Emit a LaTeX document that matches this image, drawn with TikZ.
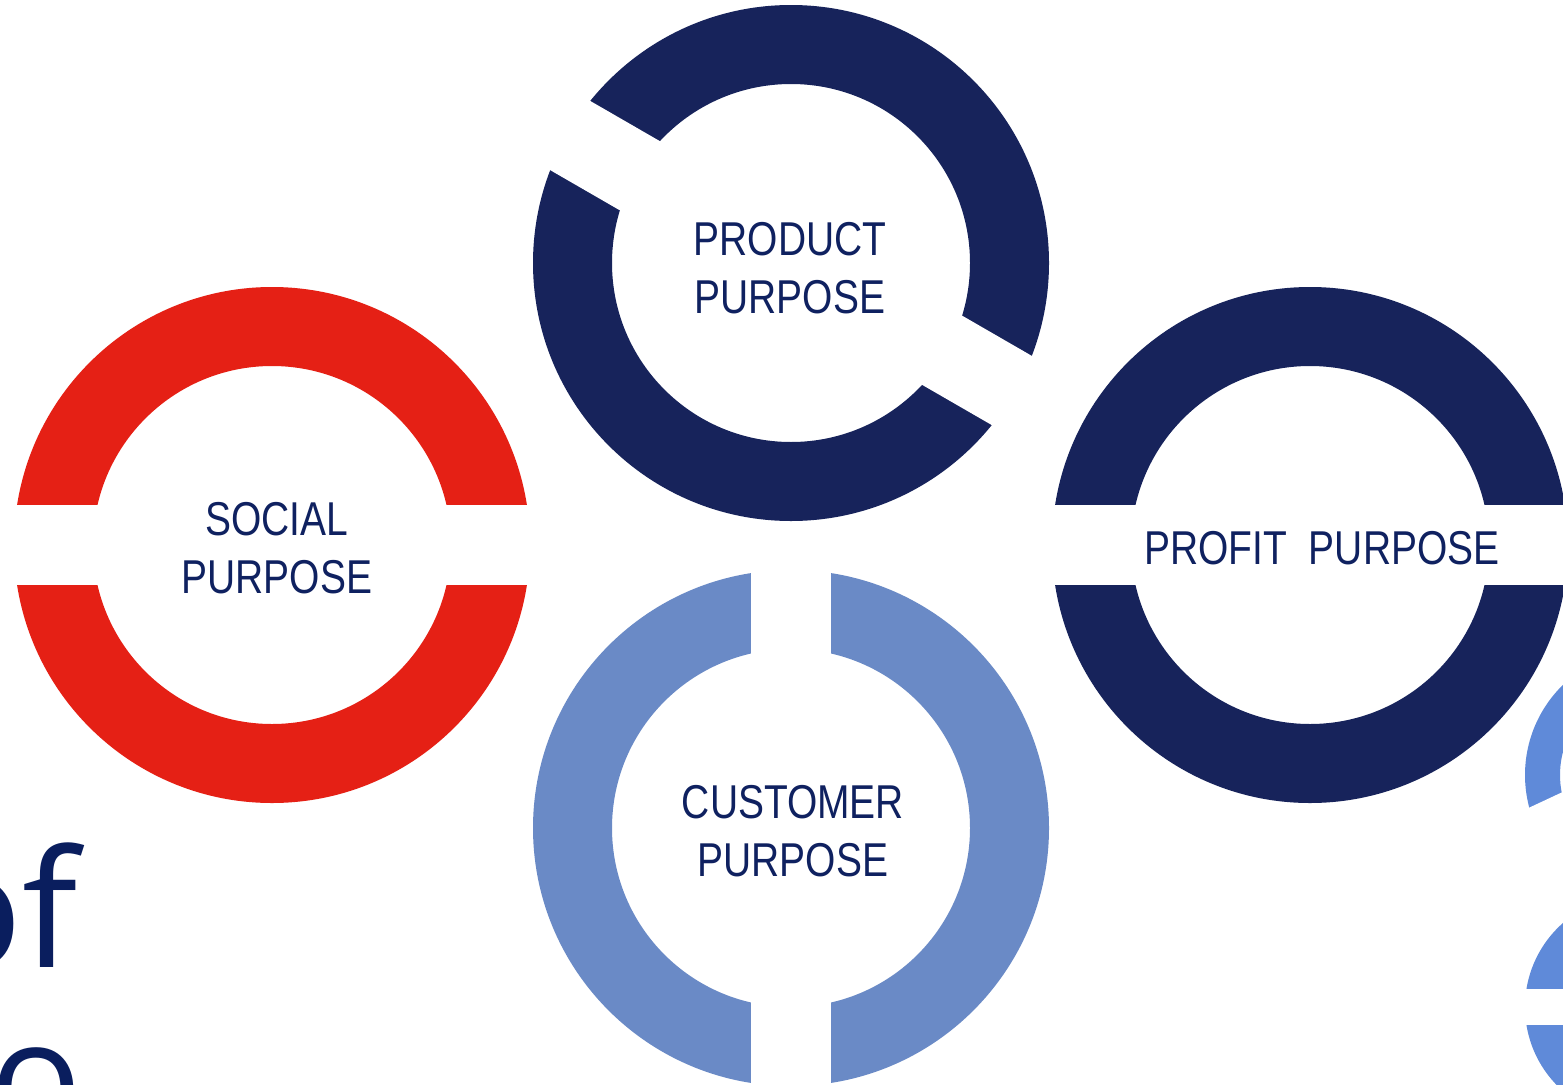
\documentclass[tikz,border=0pt]{standalone}
\usepackage{fontspec}
\setmainfont{Liberation Sans}
\newfontfamily\bigfont{Open Sans}
\usetikzlibrary{calc}
\definecolor{redring}{HTML}{E52015}
\definecolor{navyring}{HTML}{17235B}
\definecolor{lightring}{HTML}{6A8AC6}
\definecolor{edgering}{HTML}{5F8AD9}
\definecolor{labelcol}{HTML}{0F2160}
\definecolor{bigtext}{HTML}{0A1E5E}
\tikzset{
  ringlabel/.style={text=labelcol, inner sep=0pt, align=center,
    font={\fontsize{47.5}{58}\selectfont}},
  gapband/.style={fill=white},
  bigword/.style={anchor=base west, inner sep=0pt, text=bigtext,
    font={\bigfont\fontsize{163}{165}\selectfont}},
}
\newcommand{\nrw}[1]{\scalebox{0.82}[1]{#1}}
\begin{document}
\begin{tikzpicture}[x=1pt,y=-1pt]
\useasboundingbox (0,0) rectangle (1563,1084);
\clip (0,0) rectangle (1563,1084);
\fill[white] (0,0) rectangle (1563,1084);

% centres
\coordinate (social) at (272,545);
\coordinate (product) at (791,263);
\coordinate (profit) at (1310,545);
\coordinate (customer) at (791,828);
\coordinate (edgeA) at (1651,775);
\coordinate (edgeB) at (1637,1007);

% edge pieces (partially visible rings)
\fill[edgering, even odd rule] (edgeA) circle (126) (edgeA) circle (91);
\fill[gapband] (1558,906.7) -- (1514.9,814.3) -- (1768.5,695.9) -- (1811.6,788.3) -- cycle;
\fill[edgering, even odd rule] (edgeB) circle (112) (edgeB) circle (76);
\fill[gapband] (1500,989) rectangle (1563,1025);

% social ring
\fill[redring, even odd rule] (social) circle (258) (social) circle (179);
\fill[gapband] (0,505) rectangle (540,585);

% product ring
\fill[navyring, even odd rule] (product) circle (258) (product) circle (179);
\fill[gapband] (1013.5,437.6) -- (1053.5,368.4) -- (568.5,88.4) -- (528.5,157.6) -- cycle;

% profit ring
\fill[navyring, even odd rule] (profit) circle (258) (profit) circle (179);
\fill[gapband] (1040,505) rectangle (1563,585);

% customer ring
\fill[lightring, even odd rule] (customer) circle (258) (customer) circle (179);
\fill[gapband] (751,560) rectangle (831,1100);

% labels
\node[ringlabel] (socialtext) at (277,548) {\nrw{SOCIAL}\\\nrw{PURPOSE}};
\node[ringlabel] (producttext) at (790,268) {\nrw{PRODUCT}\\\nrw{PURPOSE}};
\node[ringlabel] (profittext) at (1322,548) {\nrw{PROFIT\ \ PURPOSE}};
\node[ringlabel] (customertext) at (793,831) {\nrw{CUSTOMER}\\\nrw{PURPOSE}};

% partial title text at the left edge
\node[bigword] (oftext) at (-76,967) {of};
\node[bigword, font={\bigfont\fontsize{152}{160}\selectfont}] (otext) at (-10,1130) {o};
\end{tikzpicture}
\end{document}
